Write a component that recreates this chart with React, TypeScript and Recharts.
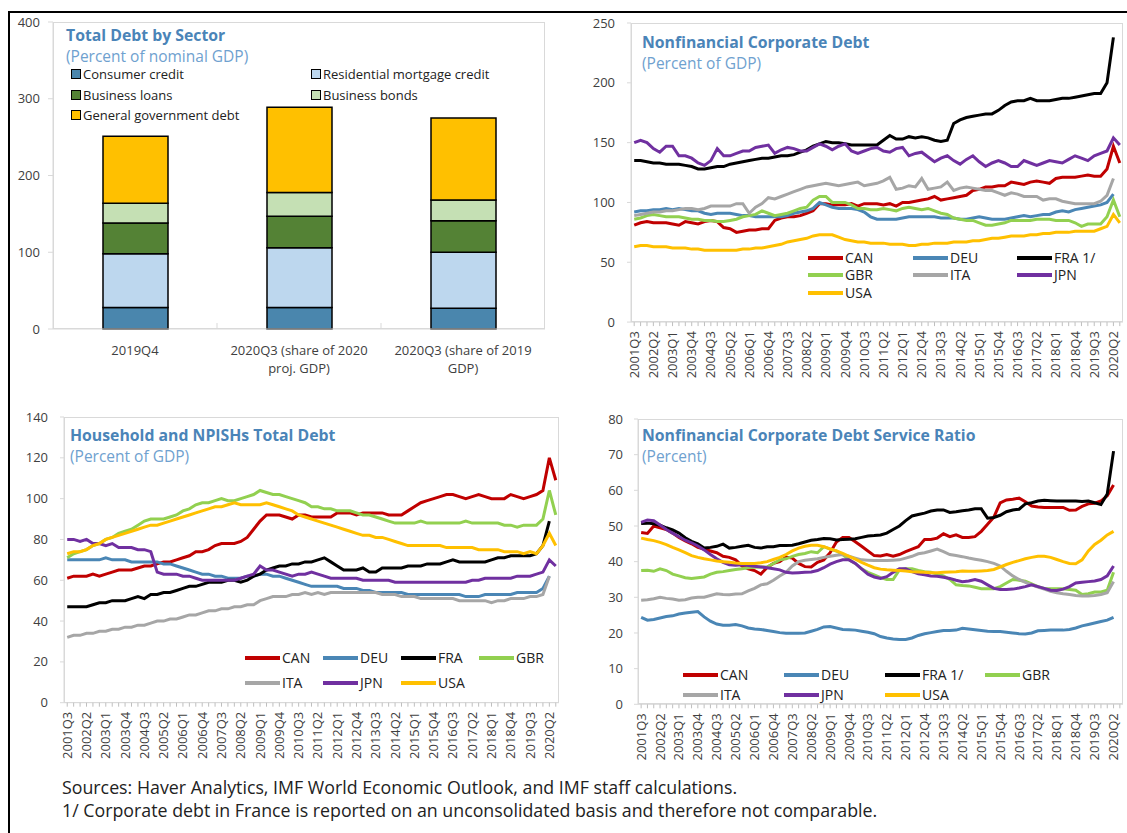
import React from 'react';
import { BarChart, Bar, LineChart, Line, XAxis, YAxis } from 'recharts';

const FONT = '"Open Sans", "Noto Sans", sans-serif';

// ---- top-left: total debt by sector ----
const barCategories = ['2019Q4', '2020Q3 (share of 2020 proj. GDP)', '2020Q3 (share of 2019 GDP)'];
const consumerCredit = [28, 28, 27];
const mortgageCredit = [70, 78, 73];
const businessLoans = [40, 41, 41];
const businessBonds = [26, 31, 27];
const governmentDebt = [87, 111, 107];
const barTicks = [0, 100, 200, 300, 400];

// ---- quarterly panels ----
const quarters = [
  '2001Q3', '2001Q4',
  '2002Q1', '2002Q2', '2002Q3', '2002Q4', '2003Q1', '2003Q2', '2003Q3', '2003Q4',
  '2004Q1', '2004Q2', '2004Q3', '2004Q4', '2005Q1', '2005Q2', '2005Q3', '2005Q4',
  '2006Q1', '2006Q2', '2006Q3', '2006Q4', '2007Q1', '2007Q2', '2007Q3', '2007Q4',
  '2008Q1', '2008Q2', '2008Q3', '2008Q4', '2009Q1', '2009Q2', '2009Q3', '2009Q4',
  '2010Q1', '2010Q2', '2010Q3', '2010Q4', '2011Q1', '2011Q2', '2011Q3', '2011Q4',
  '2012Q1', '2012Q2', '2012Q3', '2012Q4', '2013Q1', '2013Q2', '2013Q3', '2013Q4',
  '2014Q1', '2014Q2', '2014Q3', '2014Q4', '2015Q1', '2015Q2', '2015Q3', '2015Q4',
  '2016Q1', '2016Q2', '2016Q3', '2016Q4', '2017Q1', '2017Q2', '2017Q3', '2017Q4',
  '2018Q1', '2018Q2', '2018Q3', '2018Q4', '2019Q1', '2019Q2', '2019Q3', '2019Q4',
  '2020Q1', '2020Q2', '2020Q3',
];

const countries = ['CAN', 'DEU', 'FRA', 'GBR', 'ITA', 'JPN', 'USA'];
const countryColors = ['#c00000', '#4a86b5', '#000000', '#92d050', '#a6a6a6', '#7030a0', '#ffc000'];

// nonfinancial corporate debt, % of GDP
const corpCAN = [81, 83, 84, 83, 83, 83, 82, 81, 84, 83, 82, 84, 85, 84, 79, 78, 75, 76, 77, 77, 78, 78, 85, 87, 88, 88, 89, 91, 93, 99, 99, 98, 98, 98, 99, 97, 99, 99, 99, 98, 99, 97, 100, 100, 101, 102, 103, 105, 102, 103, 104, 105, 106, 110, 111, 113, 113, 114, 114, 117, 116, 115, 117, 118, 117, 116, 120, 121, 121, 121, 122, 123, 122, 122, 128, 147, 133];
const corpDEU = [92, 93, 93, 94, 94, 95, 94, 95, 94, 93, 93, 91, 90, 91, 91, 91, 90, 89, 89, 88, 88, 88, 88, 88, 89, 91, 92, 93, 95, 100, 98, 96, 95, 95, 95, 94, 92, 88, 86, 86, 86, 86, 87, 88, 88, 88, 88, 88, 87, 87, 87, 86, 86, 87, 88, 87, 86, 86, 86, 87, 88, 89, 88, 89, 90, 90, 92, 93, 92, 94, 95, 96, 97, 98, 100, 107, null];
const corpFRA = [135, 135, 134, 133, 133, 132, 132, 132, 131, 130, 128, 128, 129, 130, 130, 132, 133, 134, 135, 136, 137, 137, 138, 139, 139, 140, 142, 144, 147, 149, 151, 150, 150, 149, 148, 148, 148, 148, 148, 152, 156, 153, 153, 155, 154, 155, 154, 152, 151, 152, 166, 169, 171, 172, 173, 174, 174, 177, 181, 184, 185, 185, 187, 185, 185, 185, 186, 187, 187, 188, 189, 190, 191, 191, 200, 238, null];
const corpGBR = [86, 87, 89, 90, 89, 88, 88, 88, 87, 86, 86, 85, 85, 84, 84, 85, 86, 88, 89, 90, 93, 91, 89, 90, 91, 93, 95, 96, 102, 105, 105, 100, 100, 100, 98, 95, 95, 94, 94, 95, 94, 93, 95, 96, 95, 94, 95, 93, 91, 90, 87, 86, 85, 85, 83, 81, 81, 82, 83, 85, 85, 85, 85, 86, 86, 86, 85, 85, 85, 83, 80, 82, 82, 82, 88, 102, 88];
const corpITA = [89, 90, 91, 92, 92, 93, 93, 94, 95, 95, 94, 95, 97, 97, 97, 97, 99, 99, 91, 96, 99, 104, 103, 105, 107, 109, 111, 113, 114, 115, 116, 115, 114, 115, 116, 117, 114, 115, 116, 118, 121, 111, 112, 114, 113, 120, 111, 112, 113, 117, 110, 112, 113, 112, 111, 110, 110, 108, 106, 108, 107, 105, 105, 105, 102, 103, 103, 101, 100, 99, 99, 99, 99, 101, 106, 120, null];
const corpJPN = [150, 152, 150, 145, 142, 147, 147, 139, 139, 137, 133, 131, 135, 145, 139, 139, 141, 143, 143, 146, 147, 148, 141, 144, 146, 145, 143, 143, 146, 149, 147, 144, 147, 149, 143, 141, 143, 145, 146, 143, 142, 145, 146, 139, 141, 142, 138, 134, 137, 139, 135, 132, 136, 139, 134, 130, 133, 135, 133, 130, 130, 135, 133, 131, 133, 135, 134, 133, 136, 139, 137, 135, 139, 141, 143, 154, 148];
const corpUSA = [63, 64, 64, 63, 63, 63, 62, 62, 62, 61, 61, 60, 60, 60, 60, 60, 60, 61, 61, 62, 62, 63, 64, 65, 67, 68, 69, 70, 72, 73, 73, 73, 71, 69, 68, 67, 67, 66, 66, 66, 65, 65, 65, 64, 64, 65, 65, 66, 66, 66, 67, 67, 67, 68, 68, 69, 70, 70, 71, 72, 72, 72, 73, 73, 74, 74, 75, 75, 75, 76, 76, 76, 76, 78, 80, 90, 83];

// household and NPISHs total debt, % of GDP
const hhCAN = [61, 62, 62, 62, 63, 62, 63, 64, 65, 65, 65, 66, 67, 67, 68, 69, 69, 70, 71, 72, 74, 74, 75, 77, 78, 78, 78, 79, 81, 85, 89, 92, 92, 92, 91, 90, 92, 92, 91, 91, 91, 91, 93, 93, 93, 92, 93, 93, 93, 93, 92, 92, 92, 94, 96, 98, 99, 100, 101, 102, 102, 101, 100, 101, 102, 101, 100, 100, 100, 102, 101, 100, 101, 102, 104, 120, 109];
const hhDEU = [70, 70, 70, 70, 70, 70, 71, 70, 70, 70, 69, 69, 69, 69, 69, 68, 68, 67, 66, 65, 64, 63, 63, 62, 62, 61, 61, 61, 62, 62, 63, 63, 62, 62, 61, 60, 59, 58, 57, 57, 57, 57, 57, 56, 56, 56, 55, 55, 54, 54, 54, 54, 54, 53, 53, 53, 53, 53, 53, 53, 53, 53, 52, 52, 52, 53, 53, 53, 53, 53, 54, 54, 54, 54, 56, 62, null];
const hhFRA = [47, 47, 47, 47, 48, 49, 49, 50, 50, 50, 51, 52, 51, 53, 53, 54, 54, 55, 56, 57, 57, 58, 59, 59, 59, 60, 60, 59, 60, 62, 63, 65, 66, 67, 67, 68, 68, 69, 69, 70, 71, 69, 67, 65, 65, 65, 66, 64, 64, 66, 66, 66, 66, 67, 67, 67, 68, 68, 68, 69, 70, 69, 69, 69, 69, 69, 70, 71, 71, 72, 72, 72, 72, 73, 77, 89, null];
const hhGBR = [71, 73, 74, 75, 77, 78, 80, 81, 83, 84, 85, 87, 89, 90, 90, 90, 91, 92, 94, 95, 97, 98, 98, 99, 100, 99, 99, 100, 101, 102, 104, 103, 102, 102, 101, 100, 99, 98, 96, 96, 95, 95, 94, 94, 94, 93, 92, 92, 91, 90, 89, 88, 88, 88, 88, 89, 88, 88, 88, 88, 88, 88, 89, 88, 88, 88, 88, 88, 87, 87, 86, 87, 87, 87, 90, 104, 92];
const hhITA = [32, 33, 33, 34, 34, 35, 35, 36, 36, 37, 37, 38, 38, 39, 40, 40, 41, 41, 42, 43, 43, 44, 45, 45, 46, 46, 47, 47, 48, 48, 50, 51, 52, 52, 52, 53, 53, 54, 53, 54, 53, 54, 54, 54, 54, 54, 54, 54, 54, 53, 53, 53, 52, 52, 52, 51, 51, 51, 51, 51, 51, 50, 50, 50, 50, 50, 49, 50, 50, 51, 51, 51, 52, 52, 53, 62, null];
const hhJPN = [80, 80, 79, 80, 78, 78, 77, 78, 76, 76, 76, 75, 75, 74, 64, 63, 63, 63, 62, 62, 61, 60, 60, 60, 60, 60, 60, 61, 62, 63, 67, 65, 65, 64, 63, 62, 63, 63, 64, 63, 62, 61, 61, 61, 61, 61, 60, 60, 60, 60, 60, 59, 59, 59, 59, 59, 59, 59, 59, 59, 59, 59, 59, 60, 60, 61, 61, 61, 61, 61, 62, 62, 62, 63, 64, 70, 67];
const hhUSA = [73, 74, 74, 75, 77, 78, 80, 81, 82, 83, 84, 85, 86, 87, 87, 88, 89, 90, 91, 92, 93, 94, 95, 96, 96, 97, 98, 97, 97, 97, 97, 98, 97, 96, 95, 94, 92, 91, 90, 89, 88, 87, 86, 85, 84, 83, 82, 82, 81, 81, 80, 79, 78, 77, 77, 77, 77, 77, 77, 76, 76, 76, 76, 76, 75, 75, 75, 75, 74, 74, 74, 73, 74, 73, 77, 83, 77];

// nonfinancial corporate debt service ratio, percent
const dsrCAN = [48.2, 47.9, 50, 49.5, 49, 48, 46.8, 45.8, 45, 44, 43.5, 43, 42.5, 41.5, 41.2, 40.5, 38.8, 38, 37.5, 36.5, 38.4, 39.5, 40, 41.3, 41, 39.5, 38.6, 38.5, 39.8, 40.5, 42.5, 45.5, 46.8, 46.8, 45.6, 44.3, 43, 41.7, 41.6, 42, 41.5, 42, 42.8, 43.5, 44.2, 46.2, 46.2, 46.6, 47.8, 47, 47.5, 46.8, 46.8, 47, 48.5, 50.5, 52.5, 56.5, 57.3, 57.5, 57.8, 56.8, 55.6, 55.3, 55.2, 55.2, 55.2, 55.2, 54.4, 54.5, 55.5, 56.2, 56.4, 57, 58.5, 61.5, null];
const dsrDEU = [24.4, 23.6, 23.8, 24.2, 24.6, 24.8, 25.3, 25.6, 25.8, 26, 24.5, 23.3, 22.5, 22.2, 22.2, 22.4, 22, 21.4, 21.1, 21, 20.7, 20.4, 20.1, 19.9, 19.9, 19.9, 20, 20.5, 21, 21.7, 21.8, 21.4, 21, 20.9, 20.8, 20.5, 20.2, 19.8, 19, 18.6, 18.3, 18.2, 18.2, 18.6, 19.3, 19.8, 20.1, 20.4, 20.7, 20.7, 20.8, 21.3, 21.1, 20.9, 20.7, 20.5, 20.4, 20.4, 20.2, 20, 19.8, 19.7, 20, 20.6, 20.7, 20.8, 20.8, 20.8, 21, 21.4, 22, 22.4, 22.8, 23.2, 23.6, 24.4, null];
const dsrFRA = [50.7, 50.8, 50.6, 50.2, 49.5, 48.9, 48, 46.7, 45.7, 45, 43.8, 44, 44.3, 44.9, 43.8, 44, 44.3, 44.6, 44, 43.8, 44.2, 44.2, 44.5, 44.5, 44.6, 45, 45.5, 46, 46.2, 46.5, 46.4, 46.1, 46.2, 46.3, 46.4, 46.8, 47.2, 47.3, 47.5, 48, 49, 50, 51.5, 52.8, 53.2, 53.6, 54.2, 54.5, 54.5, 53.8, 54, 54.3, 54.5, 54.8, 54.8, 52.2, 52.4, 53, 54, 54.5, 54.7, 56.2, 56.5, 57, 57.2, 57.1, 57, 57, 57, 57, 56.9, 57, 56.5, 56, 59, 71, null];
const dsrGBR = [37.5, 37.6, 37.3, 38, 37.5, 36.5, 36, 35.5, 35.3, 35.5, 35.7, 36.5, 37, 37.2, 37.5, 37.8, 38, 38.3, 38.4, 38.5, 38.5, 39.5, 40.5, 40.8, 41.5, 42, 42.3, 42.8, 42.5, 44.2, 43.5, 43, 42, 40.5, 39.5, 38, 37, 36.3, 35.5, 35, 35, 37.7, 38, 38, 37.5, 37.2, 37, 36.5, 36, 35, 33.5, 33.3, 33.2, 32.8, 32.4, 32.4, 32.4, 33, 34, 35, 34.8, 34.5, 33.8, 33, 32.5, 32.4, 32.4, 32.4, 32.2, 32, 30.8, 31, 31.5, 31.5, 32, 37, null];
const dsrITA = [29.2, 29.3, 29.6, 30, 29.7, 29.5, 29.2, 29.3, 29.8, 30, 30, 30.5, 31, 30.8, 30.7, 30.9, 31, 31.8, 32.5, 33.5, 33.8, 34.8, 36, 37, 38.8, 40, 40.4, 40.6, 40.8, 41.2, 41.5, 41.8, 42, 41.5, 41, 40.5, 40.4, 40.3, 40.3, 40.3, 40.4, 40.5, 41, 41.5, 42.2, 42.5, 43, 43.5, 42.8, 42, 41.7, 41.4, 41, 40.7, 40.4, 40, 39.5, 38.8, 37.3, 36, 35, 34.2, 33.5, 32.9, 32.3, 31.7, 31.3, 31, 30.8, 30.5, 30.4, 30.4, 30.5, 30.8, 31.3, 34.4, null];
const dsrJPN = [51, 51.7, 51.5, 50.3, 49, 48, 47, 46, 45.3, 44.4, 43.3, 42, 40.8, 39.8, 39.1, 39, 39.1, 38.9, 38.7, 38.5, 38.3, 38, 37.7, 37, 36.8, 36.9, 37, 37.1, 37.5, 38.3, 39.3, 40, 40.5, 40.5, 39.5, 38, 36.5, 35.7, 35.3, 35.8, 37, 38, 38, 37.2, 36.6, 36.3, 36, 35.9, 35.6, 35.3, 34.8, 34.4, 34.6, 35, 34.5, 33.5, 32.5, 32.2, 32.2, 32.3, 32.6, 33, 33.5, 33, 32.5, 32, 31.9, 32.3, 33, 34, 34.2, 34.4, 34.6, 35, 36, 38.8, null];
const dsrUSA = [46.6, 46.2, 45.9, 45.4, 44.8, 44, 43.3, 42.5, 41.7, 41.2, 40.8, 40.5, 40.2, 40, 39.8, 39.6, 39.5, 39.5, 39.5, 39.7, 40, 40.6, 41.2, 42, 43, 43.8, 44.3, 44.6, 44.6, 44.2, 43.6, 43, 42.3, 41.5, 40.7, 39.8, 39, 38.3, 37.9, 37.7, 37.6, 37.5, 37.4, 37.2, 37.1, 37, 36.9, 36.9, 37, 37.1, 37.2, 37.4, 37.3, 37.3, 37.4, 37.5, 37.8, 38.5, 39.2, 39.8, 40.3, 40.8, 41.2, 41.5, 41.5, 41.2, 40.6, 40, 39.5, 39.4, 40.5, 43, 44.8, 46, 47.5, 48.5, null];

const corpTicks = [0, 50, 100, 150, 200, 250];
const hhTicks = [0, 20, 40, 60, 80, 100, 120, 140];
const dsrTicks = [0, 10, 20, 30, 40, 50, 60, 70, 80];

const makeRows = (series: (number | null)[][]) =>
  quarters.map((q, i) => {
    const row: Record<string, any> = { q };
    countries.forEach((c, k) => { row[c] = series[k][i]; });
    return row;
  });

const corpRows = makeRows([corpCAN, corpDEU, corpFRA, corpGBR, corpITA, corpJPN, corpUSA]);
const hhRows = makeRows([hhCAN, hhDEU, hhFRA, hhGBR, hhITA, hhJPN, hhUSA]);
const dsrRows = makeRows([dsrCAN, dsrDEU, dsrFRA, dsrGBR, dsrITA, dsrJPN, dsrUSA]);

const barRows = barCategories.map((name, i) => ({
  name,
  consumer: consumerCredit[i],
  mortgage: mortgageCredit[i],
  loans: businessLoans[i],
  bonds: businessBonds[i],
  government: governmentDebt[i],
}));

const TITLE = '#4a84b8';
const SUBTITLE = '#6fa1cf';
const AXIS = '#d9d9d9';
const TEXT = '#404040';

const renderQuarterTick = (props: any) => {
  const { x, y, payload } = props;
  const label = String(payload.value);
  if (quarters.indexOf(label) % 3 !== 0) return <g />;
  return (
    <g transform={`translate(${x},${y + 3})`}>
      <text x={0} y={0} dy={4.5} textAnchor="end" transform="rotate(-90)" fontSize={13} fill={TEXT}>
        {label}
      </text>
    </g>
  );
};

const wrapLabel = (s: string) => {
  const lines: string[] = [];
  let cur = '';
  s.split(' ').forEach((w) => {
    const next = cur ? cur + ' ' + w : w;
    if (next.length > 22 && cur) { lines.push(cur); cur = w; } else cur = next;
  });
  if (cur) lines.push(cur);
  return lines;
};

const renderBarTick = (props: any) => {
  const { x, y, payload, index } = props;
  const lines = wrapLabel(String(payload.value));
  return (
    <g transform={`translate(${x},${y})`}>
      {index < 2 && <line x1={82} x2={82} y1={-6} y2={0} stroke={AXIS} />}
      {lines.map((ln, k) => (
        <text key={k} x={0} y={26 + k * 18} textAnchor="middle" fontSize={13} fill={TEXT}>{ln}</text>
      ))}
    </g>
  );
};

type Plot = { l: number; t: number; r: number; b: number };

const PlotBox = ({ plot }: { plot: Plot }) => (
  <div style={{
    position: 'absolute', left: plot.l, top: plot.t, width: plot.r - plot.l, height: plot.b - plot.t,
    border: `1px solid ${AXIS}`, boxSizing: 'border-box',
  }} />
);

function LinePanel({ rows, plot, ticks, tickMargin }: { rows: any[]; plot: Plot; ticks: number[]; tickMargin: number }) {
  const yWidth = 60, mTop = 10, xH = 60;
  const L = plot.l - yWidth, T = plot.t - mTop;
  const W = plot.r - L + 2, H = plot.b - T + xH;
  return (
    <>
      <PlotBox plot={plot} />
      <div style={{ position: 'absolute', left: L, top: T, width: W, height: H }}>
        <LineChart width={W} height={H} data={rows} margin={{ top: mTop, right: 2, left: 0, bottom: 0 }}>
          <XAxis dataKey="q" scale="band" interval={0} height={xH} tick={renderQuarterTick} tickSize={4}
            axisLine={{ stroke: AXIS }} tickLine={{ stroke: '#bfbfbf' }} />
          <YAxis type="number" domain={[ticks[0], ticks[ticks.length - 1]]} ticks={ticks} interval={0} width={yWidth}
            tickSize={4} tickMargin={tickMargin} axisLine={{ stroke: AXIS }} tickLine={{ stroke: AXIS }}
            tick={{ fontSize: 13, fill: TEXT }} />
          {countries.map((c, k) => (
            <Line key={c} dataKey={c} type="linear" stroke={countryColors[k]} strokeWidth={3} dot={false}
              activeDot={false} isAnimationActive={false} />
          ))}
        </LineChart>
      </div>
    </>
  );
}

const Titles = ({ x, y, title, sub }: { x: number; y: number; title: string; sub: string }) => (
  <>
    <div style={{ position: 'absolute', left: x, top: y - 9, lineHeight: '18px', fontSize: 15.8, fontWeight: 700, color: TITLE, whiteSpace: 'nowrap' }}>{title}</div>
    <div style={{ position: 'absolute', left: x, top: y + 12, lineHeight: '18px', fontSize: 15.5, color: SUBTITLE, whiteSpace: 'nowrap' }}>{sub}</div>
  </>
);

const LegendLine = ({ x, y, color, label }: { x: number; y: number; color: string; label: string }) => (
  <div style={{ position: 'absolute', left: x, top: y - 8, height: 16, display: 'flex', alignItems: 'center', whiteSpace: 'nowrap' }}>
    <span style={{ display: 'inline-block', width: 35, height: 4, background: color }} />
    <span style={{ fontSize: 14, lineHeight: '16px', color: '#222', marginLeft: 2 }}>{label}</span>
  </div>
);

const LegendSquare = ({ x, y, color, label }: { x: number; y: number; color: string; label: string }) => (
  <div style={{ position: 'absolute', left: x, top: y - 8, height: 16, display: 'flex', alignItems: 'center', whiteSpace: 'nowrap' }}>
    <span style={{ display: 'inline-block', width: 8, height: 8, background: color, border: '1.5px solid #000' }} />
    <span style={{ fontSize: 13, lineHeight: '16px', color: '#222', marginLeft: 2 }}>{label}</span>
  </div>
);

const colorOf = (c: string) => countryColors[countries.indexOf(c)];

export default function App() {
  const barPlot: Plot = { l: 53, t: 22, r: 545, b: 329 };
  const corpPlot: Plot = { l: 631, t: 22.6, r: 1123, b: 321.7 };
  const hhPlot: Plot = { l: 64, t: 417, r: 559, b: 702.7 };
  const dsrPlot: Plot = { l: 638, t: 418.7, r: 1123, b: 704 };
  const barH = barPlot.b - 10 + 50;

  return (
    <div style={{ position: 'absolute', left: 0, top: 0, width: 1127, height: 833, background: '#fff', fontFamily: FONT, overflow: 'hidden' }}>
      <div style={{ position: 'absolute', left: 8, top: 11, width: 1140, height: 840, borderTop: '2px solid #000', borderLeft: '2px solid #000' }} />

      {/* Total debt by sector */}
      <PlotBox plot={barPlot} />
      <div style={{ position: 'absolute', left: 0, top: 10, width: barPlot.r, height: barH }}>
        <BarChart width={barPlot.r} height={barH} data={barRows} barSize={65} margin={{ top: barPlot.t - 10, right: 0, left: 0, bottom: 0 }}>
          <XAxis dataKey="name" interval={0} height={50} tick={renderBarTick} tickSize={0} tickMargin={0} axisLine={{ stroke: AXIS }} tickLine={false} />
          <YAxis type="number" domain={[0, 400]} ticks={barTicks} interval={0} width={barPlot.l} tickSize={5} tickMargin={8}
            axisLine={{ stroke: AXIS }} tickLine={{ stroke: AXIS }} tick={{ fontSize: 13, fill: TEXT }} />
          <Bar dataKey="consumer" stackId="a" fill="#4a86ad" stroke="#000" strokeWidth={1.5} isAnimationActive={false} />
          <Bar dataKey="mortgage" stackId="a" fill="#bdd7ee" stroke="#000" strokeWidth={1.5} isAnimationActive={false} />
          <Bar dataKey="loans" stackId="a" fill="#548235" stroke="#000" strokeWidth={1.5} isAnimationActive={false} />
          <Bar dataKey="bonds" stackId="a" fill="#c5e0b4" stroke="#000" strokeWidth={1.5} isAnimationActive={false} />
          <Bar dataKey="government" stackId="a" fill="#ffc000" stroke="#000" strokeWidth={1.5} isAnimationActive={false} />
        </BarChart>
      </div>
      <Titles x={66} y={34.5} title="Total Debt by Sector" sub="(Percent of nominal GDP)" />
      <LegendSquare x={71} y={74} color="#4a86ad" label="Consumer credit" />
      <LegendSquare x={311} y={74} color="#bdd7ee" label="Residential mortgage credit" />
      <LegendSquare x={71} y={94.5} color="#548235" label="Business loans" />
      <LegendSquare x={311} y={94.5} color="#c5e0b4" label="Business bonds" />
      <LegendSquare x={71} y={115} color="#ffc000" label="General government debt" />

      {/* Nonfinancial corporate debt */}
      <LinePanel rows={corpRows} plot={corpPlot} ticks={corpTicks} tickMargin={12} />
      <Titles x={642} y={42} title="Nonfinancial Corporate Debt" sub="(Percent of GDP)" />
      <LegendLine x={808} y={258} color={colorOf('CAN')} label="CAN" />
      <LegendLine x={913} y={258} color={colorOf('DEU')} label="DEU" />
      <LegendLine x={1017} y={258} color={colorOf('FRA')} label="FRA 1/" />
      <LegendLine x={808} y={275} color={colorOf('GBR')} label="GBR" />
      <LegendLine x={913} y={275} color={colorOf('ITA')} label="ITA" />
      <LegendLine x={1017} y={275} color={colorOf('JPN')} label="JPN" />
      <LegendLine x={808} y={293} color={colorOf('USA')} label="USA" />

      {/* Household debt */}
      <LinePanel rows={hhRows} plot={hhPlot} ticks={hhTicks} tickMargin={12} />
      <Titles x={70} y={435} title="Household and NPISHs Total Debt" sub="(Percent of GDP)" />
      <LegendLine x={245} y={658} color={colorOf('CAN')} label="CAN" />
      <LegendLine x={323} y={658} color={colorOf('DEU')} label="DEU" />
      <LegendLine x={401} y={658} color={colorOf('FRA')} label="FRA" />
      <LegendLine x={479} y={658} color={colorOf('GBR')} label="GBR" />
      <LegendLine x={245} y={683} color={colorOf('ITA')} label="ITA" />
      <LegendLine x={323} y={683} color={colorOf('JPN')} label="JPN" />
      <LegendLine x={401} y={683} color={colorOf('USA')} label="USA" />

      {/* Debt service ratio */}
      <LinePanel rows={dsrRows} plot={dsrPlot} ticks={dsrTicks} tickMargin={11} />
      <Titles x={642} y={435} title="Nonfinancial Corporate Debt Service Ratio" sub="(Percent)" />
      <LegendLine x={683} y={675} color={colorOf('CAN')} label="CAN" />
      <LegendLine x={784} y={675} color={colorOf('DEU')} label="DEU" />
      <LegendLine x={885} y={675} color={colorOf('FRA')} label="FRA 1/" />
      <LegendLine x={985} y={675} color={colorOf('GBR')} label="GBR" />
      <LegendLine x={683} y={695} color={colorOf('ITA')} label="ITA" />
      <LegendLine x={784} y={695} color={colorOf('JPN')} label="JPN" />
      <LegendLine x={885} y={695} color={colorOf('USA')} label="USA" />

      <div style={{ position: 'absolute', left: 62, top: 776, fontSize: 17.8, lineHeight: '23px', color: '#222', whiteSpace: 'nowrap' }}>
        <div>Sources: Haver Analytics, IMF World Economic Outlook, and IMF staff calculations.</div>
        <div>1/ Corporate debt in France is reported on an unconsolidated basis and therefore not comparable.</div>
      </div>
    </div>
  );
}
